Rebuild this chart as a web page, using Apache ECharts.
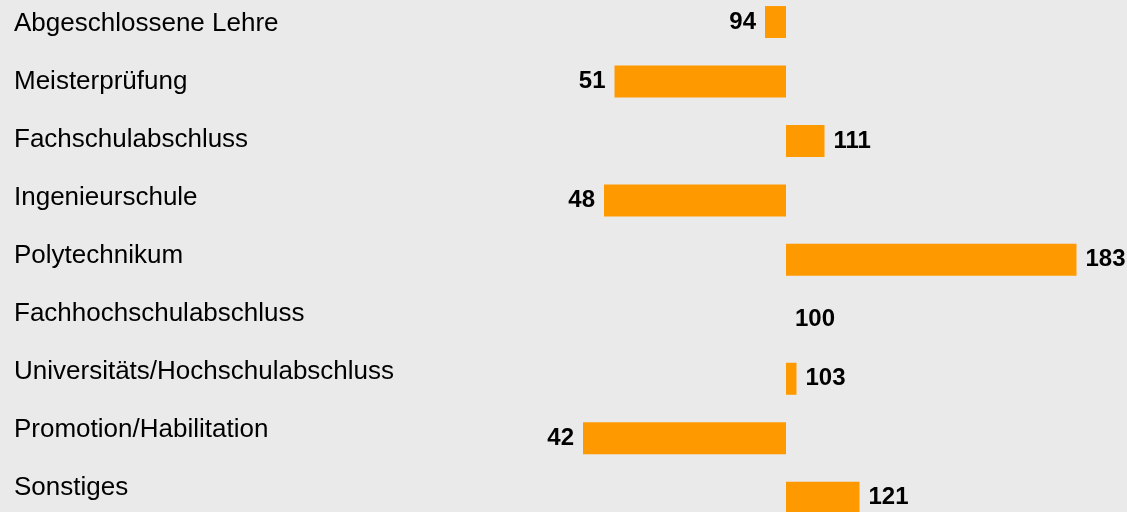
<!DOCTYPE html>
<html>
<head>
<meta charset="utf-8">
<script src="https://cdn.jsdelivr.net/npm/echarts@6/dist/echarts.min.js"></script>
<style>
  html, body { margin: 0; padding: 0; background: #eaeaea; }
  #main { width: 1127px; height: 512px; }
</style>
</head>
<body>
<div id="main"></div>
<script>
var categories = ['Abgeschlossene Lehre', 'Meisterprüfung', 'Fachschulabschluss', 'Ingenieurschule',
    'Polytechnikum', 'Fachhochschulabschluss', 'Universitäts/Hochschulabschluss',
    'Promotion/Habilitation', 'Sonstiges'];
var values = [94, 51, 111, 48, 183, 100, 103, 42, 121];
var baseline = 100;

// bars start at the baseline: transparent part up to min(v, 100), orange part is the gap
var hidden = values.map(function (v) { return Math.min(v, baseline); });
var visible = values.map(function (v) {
    return {
        value: Math.abs(v - baseline),
        label: { position: v < baseline ? 'left' : 'right' }
    };
});

var myChart = echarts.init(document.getElementById('main'));
option = {
    backgroundColor: '#eaeaea',
    animation: false,
    textStyle: { fontFamily: 'Liberation Sans, Arial, sans-serif' },
    grid: [
        { left: 436, right: 26, top: -7.7, bottom: -15.4, outerBoundsMode: 'none' },
        { left: 14, right: 700, top: -5, bottom: -5, outerBoundsMode: 'none' }
    ],
    xAxis: [
        { type: 'value', gridIndex: 0, min: 0, max: 190, show: false },
        { type: 'value', gridIndex: 1, min: 0, max: 1, show: false }
    ],
    yAxis: [
        { type: 'category', gridIndex: 0, inverse: true, data: categories, show: false },
        {
            type: 'category', gridIndex: 1, inverse: true, data: categories,
            axisLine: { show: false },
            axisTick: { show: false },
            axisLabel: {
                align: 'left',
                margin: 0,
                fontSize: 26,
                color: '#000',
                fontFamily: 'Liberation Sans, Arial, sans-serif'
            }
        }
    ],
    series: [
        {
            type: 'bar',
            stack: 'a',
            barWidth: 32,
            data: hidden,
            itemStyle: { color: 'transparent' },
            silent: true
        },
        {
            type: 'bar',
            stack: 'a',
            barWidth: 32,
            data: visible,
            itemStyle: { color: '#ff9900' },
            label: {
                show: true,
                distance: 9,
                fontSize: 24,
                fontWeight: 'bold',
                color: '#000',
                fontFamily: 'Liberation Sans, Arial, sans-serif',
                formatter: function (p) { return values[p.dataIndex]; }
            }
        }
    ]
};

myChart.setOption(option);
</script>
</body>
</html>
